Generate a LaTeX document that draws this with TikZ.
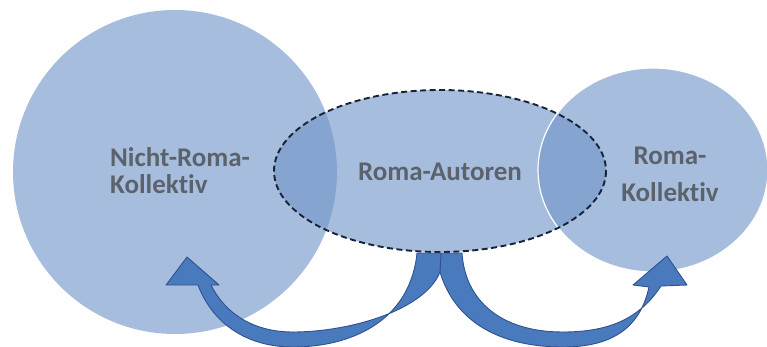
\documentclass[tikz,border=0pt]{standalone}
\usepackage{fontspec}
\setmainfont{Carlito}[RawFeature={-liga}]
\definecolor{setblue}{RGB}{112,149,200}
\definecolor{arrowblue}{RGB}{74,122,190}
\definecolor{arrowline}{RGB}{47,82,143}
\definecolor{labelgray}{RGB}{92,98,108}
\definecolor{dashnavy}{RGB}{25,35,55}
\tikzset{
  setfill/.style={fill=setblue, fill opacity=0.62},
  setlabel/.style={text=labelgray, font=\fontsize{27}{27}\selectfont\bfseries, inner sep=0pt},
  blockarrow/.style={fill=arrowblue, draw=arrowline, line width=0.9pt, line join=round}
}
\begin{document}
\begin{tikzpicture}[x=1pt,y=-1pt]
        \useasboundingbox (0,0) rectangle (767,347);

        % the three sets
        \fill[setfill] (175,172) ellipse [x radius=162, y radius=162]; % Nicht-Roma
        \fill[setfill] (440,171) ellipse [x radius=166, y radius=81];  % Autoren
        \filldraw[setfill, draw=white, line width=1.2pt] (653,170) ellipse [x radius=115, y radius=102]; % Roma
        \draw[dashnavy, line width=1.9pt, dash pattern=on 6pt off 3.5pt] (440,171) ellipse [x radius=166, y radius=81];

        \node[setlabel, anchor=west, align=left] (nichtroma) at (110,171) {Nicht-Roma-\\Kollektiv};
        \node[setlabel] (autoren) at (440,172) {Roma-Autoren};
        \node[setlabel, align=center] (roma) at (670,174) {Roma-\\[10pt]Kollektiv};

        % block arrows out of the ellipse
        \filldraw[blockarrow] (667,256) -- (687,285) -- (661,286)
          .. controls (640,318) and (610,332) .. (563,332)
          .. controls (500,332) and (465,300) .. (462,253) -- (439,253) -- (440,272)
          .. controls (455,322) and (500,347) .. (563,347)
          .. controls (612,347) and (640,328) .. (649,287) -- (633,285) -- cycle;
        \filldraw[blockarrow] (187,257) -- (166,285) -- (198,285)
          .. controls (212,322) and (245,347) .. (293,347)
          .. controls (350,347) and (410,322) .. (417,253) -- (441,253) -- (440,272)
          .. controls (425,310) and (350,332) .. (293,332)
          .. controls (255,332) and (226,315) .. (211,285) -- (219,285) -- cycle;

\end{tikzpicture}
\end{document}
